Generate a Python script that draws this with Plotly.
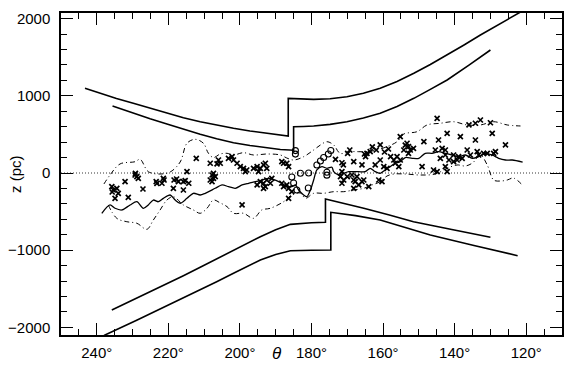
import plotly.graph_objects as go

# ---------------- data (theta in degrees, z in pc) ----------------
uo_theta = [243.3, 239.1, 234.5, 229.8, 225.1, 220.4, 215.8, 211.1, 206.5, 201.8, 197.2, 192.5, 186.5, 186.5, 183.0,
            179.4, 174.8, 170.1, 165.5, 160.8, 156.1, 151.4, 146.8, 142.1, 137.5, 132.8, 127.6, 122.5, 118.0]
uo_z = [1097, 1032, 966, 903, 837, 774, 716, 664, 619, 579, 544, 514, 479, 967, 958,
        954, 962, 988, 1033, 1097, 1186, 1291, 1405, 1528, 1655, 1787, 1925, 2059, 2180]

ui_theta = [235.6, 229.8, 225.1, 220.4, 215.8, 211.1, 206.5, 201.8, 197.2, 192.5, 188.7, 185.0, 185.0, 182.2,
            179.4, 174.8, 170.1, 165.5, 160.8, 156.1, 151.4, 146.8, 142.1, 136.0, 130.0]
ui_z = [868, 773, 702, 635, 566, 501, 443, 392, 356, 328, 305, 295, 600, 603,
        609, 630, 664, 712, 773, 862, 967, 1083, 1204, 1398, 1593]

li_theta = [235.8, 228.1, 220.4, 215.8, 211.1, 206.5, 201.8, 198.0, 194.3, 190.0, 185.9, 180.0, 176.1, 176.1,
            170.8, 165.4, 158.5, 151.5, 140.8, 130.0]
li_z = [-1774, -1606, -1437, -1330, -1221, -1110, -997, -906, -825, -736, -665, -645, -639, -337,
        -393, -457, -542, -631, -732, -833]

lo_theta = [238.5, 237.7, 229.0, 220.4, 215.8, 211.1, 206.5, 201.8, 198.0, 194.3, 190.0, 185.9, 180.0, 174.6,
            174.6, 167.7, 160.8, 153.8, 146.8, 134.6, 122.4]
lo_z = [-2120, -2098, -1910, -1722, -1620, -1515, -1408, -1299, -1208, -1127, -1055, -1006, -1000, -997,
        -509, -552, -609, -701, -803, -938, -1071]

mean_theta = [238.6, 236.3, 234.9, 233.0, 230.7, 228.8, 227.0, 225.6, 224.2, 222.8, 221.4, 219.5, 218.1, 216.7,
              214.8, 213.0, 211.1, 209.7, 206.9, 205.0, 203.2, 201.3, 199.4, 197.6, 195.7, 193.8, 192.0, 190.1,
              188.3, 186.9, 185.5, 184.5, 183.6, 182.2, 181.3, 180.3, 179.4, 178.5, 177.1, 175.7, 174.3, 173.8,
              172.4, 171.0, 169.6, 166.8, 165.0, 163.6, 162.2, 160.8, 159.4, 158.0, 156.6, 155.2, 153.8, 151.9,
              150.0, 148.2, 146.3, 144.5, 142.6, 140.7, 138.9, 137.0, 135.1, 133.3, 131.4, 129.5, 127.7, 125.8,
              123.9, 121.0]
mean_z = [-522, -414, -457, -479, -414, -372, -457, -414, -350, -372, -328, -285, -350, -392,
          -328, -263, -285, -263, -198, -155, -177, -198, -155, -133, -113, -91, -69, -91,
          -133, -177, -177, -155, -220, -285, -307, -220, -91, 39, 82, 61, 74, 17,
          -26, -4, 17, 17, 17, 61, 17, -4, 39, 82, 126, 146, 200, 190,
          190, 255, 255, 276, 255, 233, 211, 233, 190, 211, 255, 233, 190, 168,
          168, 142]

up_theta = [238.0, 236.3, 233.5, 229.3, 227.9, 225.6, 222.3, 219.5, 216.7, 214.8, 212.5, 210.2, 208.8, 207.4,
            205.5, 203.6, 201.8, 199.0, 196.2, 192.5, 188.7, 186.9, 185.0, 182.2, 179.4, 177.5, 175.7, 173.8,
            172.0, 169.1, 166.8, 164.5, 161.7, 158.9, 156.1, 154.2, 150.5, 147.7, 144.0, 140.3, 136.5, 132.8,
            129.1, 125.3, 121.6]
up_z = [-142, -26, 117, 146, 177, 17, -13, 13, 142, 385, 436, 385, 255, 200,
        246, 255, 233, 263, 233, 246, 233, 194, 168, 211, 298, 363, 405, 363,
        255, 276, 276, 276, 298, 341, 405, 505, 535, 622, 644, 664, 622, 622,
        664, 622, 609]

lw_theta = [236.8, 234.4, 231.6, 228.8, 226.0, 224.2, 222.3, 220.4, 218.6, 215.8, 213.0, 211.1, 209.2, 207.4,
            205.5, 203.6, 201.8, 199.0, 196.2, 193.9, 191.5, 187.8, 185.5, 183.1, 181.7, 179.4, 176.6, 173.8,
            171.0, 168.2, 165.4, 163.1, 160.8, 158.9, 157.0, 153.8, 149.6, 145.4, 142.1, 139.3, 137.0, 135.0,
            132.8, 130.9, 129.1, 127.2, 125.3, 123.6, 121.1]
lw_z = [-414, -587, -631, -651, -729, -609, -479, -350, -307, -414, -479, -522, -457, -350,
        -388, -436, -522, -522, -587, -479, -457, -372, -285, -259, -328, -263, -263, -242,
        -242, -220, -198, -155, -113, -39, -13, -13, -26, -13, 61, 104, 91, 130,
        233, 104, -91, -104, -91, -65, -155]

cross_theta = [235.8, 235.4, 234.4, 234.9, 234.0, 235.7, 232.1, 231.2, 229.3, 228.8, 228.4, 229.2, 227.1,
               223.4, 223.2, 221.8, 221.4, 221.2, 218.6, 218.4, 217.7, 217.2, 215.8, 215.8, 215.3, 214.3,
               214.8, 212.2, 208.3, 206.4, 206.0, 205.5, 207.8, 207.4, 208.3, 207.8, 206.9, 207.4, 203.2,
               202.2, 201.8, 200.8, 199.9, 199.0, 198.1, 198.5, 199.4, 196.2, 195.2, 194.3, 193.4, 192.9,
               194.8, 192.5, 194.3, 193.4, 192.5, 192.9, 191.5, 191.1, 195.2, 193.4, 188.3, 186.9, 186.4,
               187.8, 188.3, 187.8, 186.9, 185.5, 186.4, 186.4,
               173.3, 171.5, 171.1, 169.3, 169.9, 168.2, 171.5, 171.9, 171.0, 171.5, 170.0, 168.7, 168.2,
               167.3, 167.8, 165.9, 166.8, 168.2, 164.0, 164.9, 164.5, 163.6, 165.9, 162.2, 160.8, 159.8,
               161.2, 160.3, 158.9, 157.9, 157.0, 156.1, 156.6, 155.6, 155.2, 154.2, 155.2, 153.3, 152.9,
               165.2, 165.4, 163.0, 161.9, 160.8, 159.6, 158.5,
               153.8, 152.9, 152.4, 151.5, 148.6, 144.9, 142.1, 144.5, 145.4, 143.5, 142.6, 144.0, 142.6,
               141.6, 140.3, 140.3, 139.3, 138.9, 137.9, 138.4, 136.0, 134.2, 132.8, 134.2, 136.5, 135.6,
               133.7, 133.3, 131.9, 130.9, 129.1, 129.5, 125.8, 128.6, 130.0, 149.1, 145.9, 144.9, 142.6,
               142.1]
cross_z = [-177, -220, -198, -328, -263, -246, -113, -315, -26, -48, -69, -6, -207,
           -113, -136, -133, -69, -91, -198, -91, -78, -113, -113, -220, -100, -133,
           17, 190, 126, 117, 168, 126, -26, -69, -91, -113, -48, -4, 190,
           211, 168, 126, 82, 61, 39, 17, -414, 61, 82, 61, 104, 126,
           17, 61, -113, -133, -91, -177, -133, -69, -155, -198, 146, 126, 82,
           126, -133, -177, -155, -242, -328, -198,
           177, 133, 104, 298, 255, 146, 17, -48, -91, -133, -48, -26, -91,
           -48, -113, -113, -155, -198, -177, 211, 255, 276, 104, 104, 168, 82,
           -91, -113, 61, 211, 168, 211, 126, 82, 168, 298, 470, 385, 255,
           246, -91, 337, 298, 363, 272, 311,
           360, 341, 298, 320, 405, 708, 514, 427, 298, 320, 298, 190, 233,
           168, 233, 146, 168, 211, 190, 470, 622, 644, 686, 427, 298, 233,
           276, 233, 255, 255, 255, 514, 363, 276, 651, 82, 39, 17, 82,
           17]

circle_theta = [184.5, 184.5, 185.5, 185.0, 184.1, 183.1, 180.8, 180.9, 178.5, 177.5, 176.6, 175.3, 174.6, 175.7, 175.7]
circle_z = [290, 245, -52, -130, -220, -4, 0, -194, 104, 155, 201, 246, 291, 10, -28]

x_tickvals = [240, 220, 200, 180, 160, 140, 120]
x_ticktext = ["240°", "220°", "200°", "180°", "160°", "140°", "120°"]
y_tickvals = [2000, 1000, 0, -1000, -2000]
y_ticktext = ["2000", "1000", "0", "\u22121000", "\u22122000"]

# ---------------- figure ----------------
fig = go.Figure()

bound = dict(color="black", width=1.6)
for th, zz in [(uo_theta, uo_z), (ui_theta, ui_z), (li_theta, li_z), (lo_theta, lo_z)]:
    fig.add_trace(go.Scatter(x=th, y=zz, mode="lines", line=bound, hoverinfo="skip"))

dd = dict(color="black", width=1, dash="5px,3px,1px,3px")
fig.add_trace(go.Scatter(x=up_theta, y=up_z, mode="lines", line=dd, line_shape="spline"))
fig.add_trace(go.Scatter(x=lw_theta, y=lw_z, mode="lines", line=dd, line_shape="spline"))

fig.add_trace(go.Scatter(x=mean_theta, y=mean_z, mode="lines",
                         line=dict(color="black", width=1.3, shape="spline", smoothing=0.8)))

fig.add_trace(go.Scatter(x=cross_theta, y=cross_z, mode="markers",
                         marker=dict(symbol="x-thin", size=5, color="black",
                                     line=dict(width=1.7, color="black"))))
fig.add_trace(go.Scatter(x=circle_theta, y=circle_z, mode="markers",
                         marker=dict(symbol="circle-open", size=6, color="black",
                                     line=dict(width=1.1, color="black"))))

fig.add_hline(y=0, line=dict(color="black", width=0.8, dash="1px,2px"), layer="below")

axis_common = dict(showline=True, linecolor="black", linewidth=1.5, mirror="allticks",
                   ticks="inside", tickcolor="black", tickwidth=1.2, ticklen=12,
                   showgrid=False, zeroline=False, automargin=False,
                   tickfont=dict(family="Liberation Sans, Arial, sans-serif", size=15, color="black"))

fig.update_xaxes(range=[250, 110], tickvals=x_tickvals, ticktext=x_ticktext,
                 minor=dict(ticks="inside", dtick=5, tick0=0, ticklen=6, tickwidth=1.2, tickcolor="black"),
                 ticklabelstandoff=3, **axis_common)
fig.update_yaxes(range=[-2098, 2072], tickvals=y_tickvals, ticktext=y_ticktext,
                 minor=dict(ticks="inside", dtick=200, tick0=0, ticklen=6, tickwidth=1.2, tickcolor="black"),
                 ticklabelstandoff=6, **axis_common)

fig.add_annotation(x=-0.092, y=0.5, xref="paper", yref="paper", text="z (pc)", textangle=-90,
                   showarrow=False, xanchor="center", yanchor="middle",
                   font=dict(family="Liberation Sans, Arial, sans-serif", size=15, color="black"))
fig.add_annotation(x=0.431, y=-0.056, xref="paper", yref="paper", text="<i>θ</i>",
                   showarrow=False, xanchor="center", yanchor="middle",
                   font=dict(family="Liberation Sans, Arial, sans-serif", size=17, color="black"))

fig.update_layout(width=570, height=365, margin=dict(l=61, r=8, t=13, b=30),
                  paper_bgcolor="white", plot_bgcolor="white", showlegend=False,
                  font=dict(family="Liberation Sans, Arial, sans-serif", size=15, color="black"))

fig.write_html("out.html", config={"displayModeBar": False},
               post_script="document.body.style.margin='0';document.body.style.padding='0';"
                           "document.body.style.overflow='hidden';")
